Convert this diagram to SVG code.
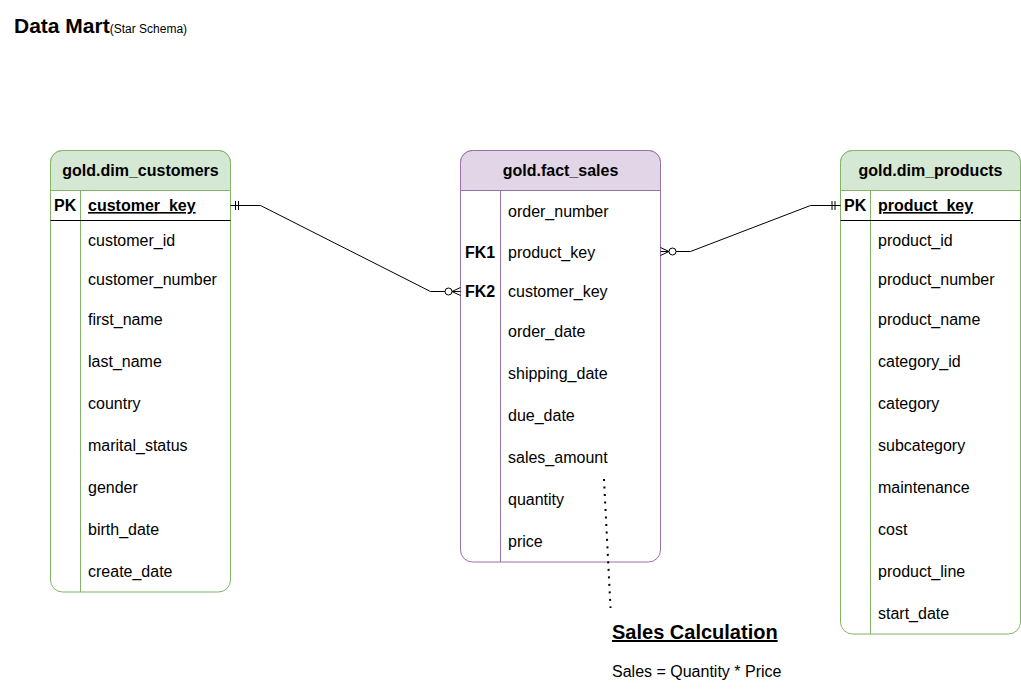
<svg xmlns="http://www.w3.org/2000/svg" width="1021" height="692" viewBox="0 0 1021 692">
<style>
text{font-family:"Liberation Sans",Arial,sans-serif;font-size:16px;fill:#000}
.h{font-weight:bold;text-anchor:middle}
.b{font-weight:bold}
.u{text-decoration:underline}
.g{stroke:#82b366;fill:#fff;stroke-width:1}
.gh{stroke:#82b366;fill:#d5e8d4;stroke-width:1}
.p{stroke:#9673a6;fill:#fff;stroke-width:1}
.ph{stroke:#9673a6;fill:#e1d5e7;stroke-width:1}
.ln{stroke:#000;stroke-width:1;fill:none}
</style>
<rect width="1021" height="692" fill="#fff"/>
<text x="14" y="33" style="font-size:21px;font-weight:bold">Data Mart<tspan style="font-size:12px;font-weight:normal">(Star Schema)</tspan></text>

<g id="dim_customers">
<rect class="g" x="50.5" y="150.5" width="180" height="441.5" rx="12"/>
<path class="gh" d="M50.5,190.5V162.5a12,12 0 0 1 12,-12H218.5a12,12 0 0 1 12,12V190.5Z"/>
<line x1="80.5" y1="190.5" x2="80.5" y2="592" stroke="#82b366"/>
<line x1="50.5" y1="220.5" x2="230.5" y2="220.5" stroke="#000"/>
<text class="h" x="140.5" y="176">gold.dim_customers</text>
<text class="b" x="54" y="211">PK</text>
<text class="b u" x="88" y="211">customer_key</text>
<text x="88" y="246">customer_id</text>
<text x="88" y="285">customer_number</text>
<text x="88" y="325">first_name</text>
<text x="88" y="367">last_name</text>
<text x="88" y="409">country</text>
<text x="88" y="451">marital_status</text>
<text x="88" y="493">gender</text>
<text x="88" y="535">birth_date</text>
<text x="88" y="577">create_date</text>
</g>

<g id="fact_sales">
<rect class="p" x="460.5" y="150.5" width="200" height="411.5" rx="12"/>
<path class="ph" d="M460.5,190.5V162.5a12,12 0 0 1 12,-12H648.5a12,12 0 0 1 12,12V190.5Z"/>
<line x1="500.5" y1="190.5" x2="500.5" y2="562" stroke="#9673a6"/>
<text class="h" x="560.5" y="176">gold.fact_sales</text>
<text x="508" y="217">order_number</text>
<text class="b" x="465" y="258">FK1</text>
<text x="508" y="258">product_key</text>
<text class="b" x="465" y="297">FK2</text>
<text x="508" y="297">customer_key</text>
<text x="508" y="337">order_date</text>
<text x="508" y="379">shipping_date</text>
<text x="508" y="421">due_date</text>
<text x="508" y="463">sales_amount</text>
<text x="508" y="505">quantity</text>
<text x="508" y="547">price</text>
</g>

<g id="dim_products">
<rect class="g" x="840.5" y="150.5" width="180" height="483.5" rx="12"/>
<path class="gh" d="M840.5,190.5V162.5a12,12 0 0 1 12,-12H1008.5a12,12 0 0 1 12,12V190.5Z"/>
<line x1="870.5" y1="190.5" x2="870.5" y2="634" stroke="#82b366"/>
<line x1="840.5" y1="220.5" x2="1020.5" y2="220.5" stroke="#000"/>
<text class="h" x="930.5" y="176">gold.dim_products</text>
<text class="b" x="844" y="211">PK</text>
<text class="b u" x="878" y="211">product_key</text>
<text x="878" y="246">product_id</text>
<text x="878" y="285">product_number</text>
<text x="878" y="325">product_name</text>
<text x="878" y="367">category_id</text>
<text x="878" y="409">category</text>
<text x="878" y="451">subcategory</text>
<text x="878" y="493">maintenance</text>
<text x="878" y="535">cost</text>
<text x="878" y="577">product_line</text>
<text x="878" y="619">start_date</text>
</g>

<g id="connectors">
<path class="ln" d="M230.5,205.5H260.5L430.5,291.5H445"/>
<line class="ln" x1="235.5" y1="201" x2="235.5" y2="210"/>
<line class="ln" x1="238.5" y1="201" x2="238.5" y2="210"/>
<circle cx="448.5" cy="291.5" r="3.5" fill="#fff" stroke="#000"/>
<path class="ln" d="M452,291.5H460.5M452,291.5L460.5,287.5M452,291.5L460.5,295.5"/>

<path class="ln" d="M840.5,205.5H810.5L690.5,251.5H676"/>
<line class="ln" x1="832" y1="201" x2="832" y2="210"/>
<line class="ln" x1="835" y1="201" x2="835" y2="210"/>
<circle cx="672.5" cy="251.5" r="3.5" fill="#fff" stroke="#000"/>
<path class="ln" d="M669,251.5H660.5M669,251.5L660.5,247.5M669,251.5L660.5,255.5"/>

<line x1="604" y1="479" x2="610.5" y2="608" stroke="#000" stroke-width="2" stroke-dasharray="2 5.5"/>
</g>

<g id="sales_calc">
<text x="612" y="639" class="b u" style="font-size:20px">Sales Calculation</text>
<text x="612" y="677">Sales = Quantity * Price</text>
</g>
</svg>
